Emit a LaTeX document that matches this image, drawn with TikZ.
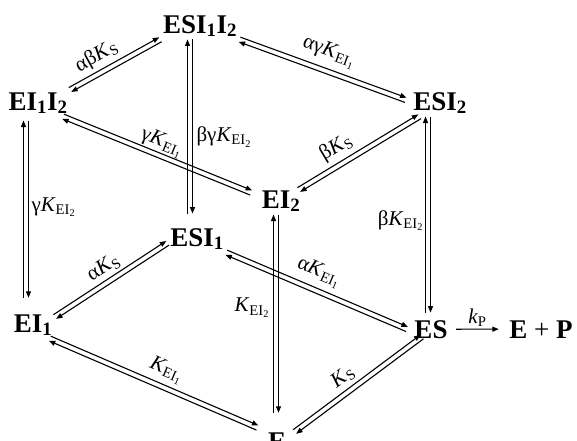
\documentclass[tikz,border=0pt]{standalone}
\usepackage{fontspec}
\setmainfont{Liberation Serif}
\usetikzlibrary{arrows.meta,calc}

\begin{document}
\begin{tikzpicture}[x=1pt, y=-1pt, line width=1.1pt, >={Triangle[length=6.5pt,width=5pt]},
	species/.style={font=\fontsize{27}{30}\selectfont\bfseries, inner sep=2pt, anchor=base},
	rate/.style={font=\fontsize{21}{24}\selectfont, inner sep=1pt}]
	\useasboundingbox (0,0) rectangle (577,440);
	% species
	\node[species] (ESII) at (200,33) {ESI\textsubscript{1}I\textsubscript{2}};
	\node[species] (EIII) at (38,110) {EI\textsubscript{1}I\textsubscript{2}};
	\node[species] (ESIt) at (440,110) {ESI\textsubscript{2}};
	\node[species] (EIt) at (281,208) {EI\textsubscript{2}};
	\node[species] (ESIo) at (197,246) {ESI\textsubscript{1}};
	\node[species] (EIo) at (33,332) {EI\textsubscript{1}};
	\node[species] (ES) at (431,338) {ES};
	\node[species] (EP) at (541,338) {E {\mdseries+} P};
	\node[species] (E) at (277,450) {E};
	% slanted equilibria, left to right (anchor, offset, anchor, offset)
	\foreach \a/\sa/\b/\sb/\p/\d/\lab in {
		EIII.north east/{0,0}/ESII.south west/{0,0}/.38/5pt/αβ\textit{K}\textsubscript{S},
		ESII.south east/{0,0}/ESIt.west/{-5,-3}/.5/8pt/αγ\textit{K}\textsubscript{EI\textsubscript{1}},
		EIII.south east/{-7,0}/EIt.north west/{-8,5}/.5/2pt/γ\textit{K}\textsubscript{EI\textsubscript{1}},
		EIt.north east/{-4,2}/ESIt.south west/{9,0}/.38/5.5pt/β\textit{K}\textsubscript{S},
		EIo.north east/{0,5}/ESIo.west/{0,4}/.5/4pt/α\textit{K}\textsubscript{S},
		ESIo.south east/{0,0}/ES.west/{-5,0}/.475/7pt/α\textit{K}\textsubscript{EI\textsubscript{1}},
		EIo.south east/{-5,0}/E.north west/{-8,-2}/.53/6pt/\textit{K}\textsubscript{EI\textsubscript{1}},
		E.north east/{6,2}/ES.south west/{10,-4}/.45/5pt/\textit{K}\textsubscript{S}}{
		\path ($(\a)+(\sa)$) -- ($(\b)+(\sb)$) coordinate[pos=0] (s) coordinate[pos=1] (t)
			node[rate, sloped, above=\d, pos=\p] {\lab};
		\draw[->] ($(s)!2.5pt!90:(t)$) -- ($(t)!2.5pt!-90:(s)$);
		\draw[->] ($(t)!2.5pt!90:(s)$) -- ($(s)!2.5pt!-90:(t)$);
	}
	% vertical equilibria, top to bottom
	\foreach \a/\sa/\b/\sb/\p/\side/\d/\lab in {
		ESII.south/{-10,0}/ESIo.north/{-7,-12}/.56/right/5pt/βγ\textit{K}\textsubscript{EI\textsubscript{2}},
		EIII.south/{-12,4}/EIo.north/{-7,-14}/.49/right/4pt/γ\textit{K}\textsubscript{EI\textsubscript{2}},
		ESIt.south/{-12,0}/ES.north/{-3,-5}/.53/left/3pt/β\textit{K}\textsubscript{EI\textsubscript{2}},
		EIt.south/{-5,0}/E.north/{-1,-17}/.47/left/5pt/\textit{K}\textsubscript{EI\textsubscript{2}}}{
		\path ($(\a)+(\sa)$) -- ($(\b)+(\sb)$) coordinate[pos=0] (s) coordinate[pos=1] (t)
			node[rate, \side=\d, pos=\p] {\lab};
		\draw[->] ($(s)!2.5pt!90:(t)$) -- ($(t)!2.5pt!-90:(s)$);
		\draw[->] ($(t)!2.5pt!90:(s)$) -- ($(s)!2.5pt!-90:(t)$);
	}
	% product step
	\draw[->] ([xshift=6pt]ES.east) -- ([xshift=-8pt]EP.west)
		node[rate, midway, above=1pt] {\textit{k}\textsubscript{P}};
\end{tikzpicture}
\end{document}
